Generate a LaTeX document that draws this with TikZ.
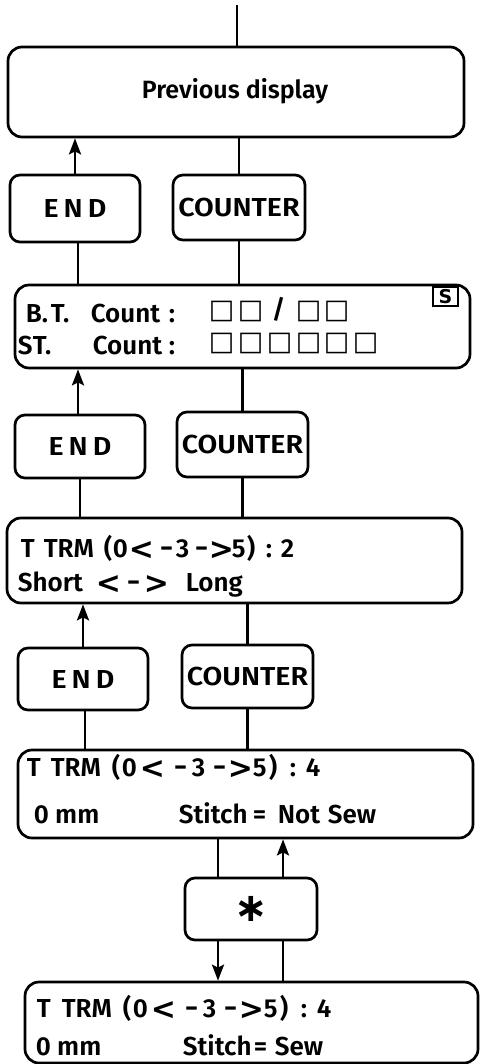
\documentclass[tikz,border=0pt]{standalone}
\usepackage{graphicx}
\usepackage{fontspec}
\setmainfont{Fira Sans}[UprightFont={* SemiBold}]
\newfontfamily\wf{Fira Sans}[UprightFont={* SemiBold},FakeStretch=1.1]
\newfontfamily\dejavu{DejaVu Sans}
\newfontfamily\symf{DejaVu Sans Bold}
\usetikzlibrary{arrows.meta}
\newcommand\sqb{{\dejavu\fontsize{27}{27}\selectfont □}}
\newcommand\pa[2]{\rlap{\hspace*{#1pt}#2}}
\newcommand\lt{\raisebox{-2.5pt}{\symf\fontsize{30}{30}\selectfont <}}
\newcommand\gt{\raisebox{-2.5pt}{\symf\fontsize{30}{30}\selectfont >}}
\newcommand\dd{\scalebox{0.85}[1.1]{–}}
\begin{document}
\begin{tikzpicture}[x=1pt,y=-1pt,
  line width=2.7pt,
  bigbox/.style={draw,rounded corners=14pt,inner sep=0pt},
  keybox/.style={draw,rounded corners=10pt,inner sep=0pt,minimum width=130pt,font=\wf\fontsize{26}{26}\selectfont},
  txt/.style={anchor=base west,inner sep=0pt,font=\fontsize{26}{26}\selectfont},
  arr/.style={-{Stealth[length=16pt,width=12pt,inset=3pt]}}]
\useasboundingbox (0,0) rectangle (480,1064);
% boxes
\node[bigbox,minimum width=456pt,minimum height=90pt] (prev) at (236,92) {};
\node[txt,anchor=base,font=\fontsize{25}{25}\selectfont] (prevt) at (235,99) {Previous display};
\node[keybox,minimum height=67pt] (end1) at (75,208.5) {E\hspace{5pt}N\hspace{5pt}D};
\node[keybox,minimum width=132pt,minimum height=65pt] (cnt1) at (239,207.5) {COUNTER};
\node[bigbox,minimum width=455pt,minimum height=83pt] (bt) at (242.5,326.5) {};
\node[txt] (bt1) at (0,322) {\pa{24}{B.}\pa{49}{T.}\pa{89}{Count}\pa{167}{:}};
\node[txt] (bt1v) at (0,318) {\pa{207}{\sqb}\pa{236}{\sqb}\pa{270}{/}\pa{294}{\sqb}\pa{322}{\sqb}};
\node[txt] (bt2) at (0,354) {\pa{16}{S}\pa{31}{T.}\pa{91}{Count}\pa{167}{:}};
\node[txt] (bt2v) at (0,350) {\pa{207}{\sqb}\pa{236}{\sqb}\pa{265}{\sqb}\pa{294}{\sqb}\pa{322}{\sqb}\pa{351}{\sqb}};
\node[draw,inner sep=0pt,minimum width=25pt,minimum height=19pt,font=\symf\fontsize{19}{19}\selectfont] (sflag) at (445.5,296.5) {S};
\node[keybox,minimum height=63pt] (end2) at (80,446.5) {E\hspace{5pt}N\hspace{5pt}D};
\node[keybox,minimum width=131pt,minimum height=65pt] (cnt2) at (242.5,444.5) {COUNTER};
\node[bigbox,minimum width=455pt,minimum height=85pt] (trm1) at (234.5,560.5) {};
\node[txt] (trm1a) at (0,557) {\pa{19}{T}\pa{42}{TRM}\pa{102}{(}\pa{111}{0}\pa{127}{\lt}\pa{159}{\dd}\pa{174}{3}\pa{194}{\dd}\pa{207}{\gt}\pa{230}{5}\pa{245}{)}\pa{264}{:}\pa{279}{2}};
\node[txt] (trm1b) at (0,591) {\pa{16}{Short}\pa{94}{\lt}\pa{126}{\dd}\pa{142}{\gt}\pa{184}{Long}};
\node[keybox,minimum height=62pt] (end3) at (83,679) {E\hspace{5pt}N\hspace{5pt}D};
\node[keybox,minimum width=131pt,minimum height=63pt] (cnt3) at (247.5,676.5) {COUNTER};
\node[bigbox,minimum width=455pt,minimum height=88pt] (trm2) at (245.5,794) {};
\node[txt] (trm2a) at (0,776) {\pa{25}{T}\pa{49}{TRM}\pa{110}{(}\pa{120}{0}\pa{138}{\lt}\pa{173}{\dd}\pa{190}{3}\pa{212}{\dd}\pa{226}{\gt}\pa{251}{5}\pa{267}{)}\pa{288}{:}\pa{304}{4}};
\node[txt] (trm2b) at (0,823) {\pa{32}{0 mm}\pa{177}{Stitch}\pa{251}{=}\pa{276}{Not}\pa{326}{Sew}};
\node[keybox,minimum width=132pt,minimum height=62pt] (star) at (251,909) {\symf\fontsize{40}{40}\selectfont ∗};
\node[bigbox,minimum width=453pt,minimum height=81pt] (trm3) at (251.5,1022.5) {};
\node[txt] (trm3a) at (0,1017) {\pa{35}{T}\pa{60}{TRM}\pa{121}{(}\pa{131}{0}\pa{149}{\lt}\pa{184}{\dd}\pa{201}{3}\pa{223}{\dd}\pa{237}{\gt}\pa{262}{5}\pa{278}{)}\pa{299}{:}\pa{315}{4}};
\node[txt] (trm3b) at (0,1055) {\pa{34}{0 mm}\pa{181}{Stitch}\pa{252}{=}\pa{273}{Sew}};
% connectors
\coordinate (top) at (237,5);
\draw (top) -- (top |- prev.north);
\draw[arr] (end1.north) -- (end1.north |- prev.south);
\draw (cnt1.north |- prev.south) -- (cnt1.north);
\draw ([xshift=3pt]end1.south) -- ([xshift=3pt]end1.south |- bt.north);
\draw (cnt1.south) -- (cnt1.south |- bt.north);
\draw[arr] ([xshift=-2pt]end2.north) -- ([xshift=-2pt]end2.north |- bt.south);
\draw (cnt2.north |- bt.south) -- (cnt2.north);
\draw (end2.south) -- (end2.south |- trm1.north);
\draw (cnt2.south) -- (cnt2.south |- trm1.north);
\draw[arr] (end3.north) -- (end3.north |- trm1.south);
\draw (cnt3.north |- trm1.south) -- (cnt3.north);
\draw ([xshift=2pt]end3.south) -- ([xshift=2pt]end3.south |- trm2.north);
\draw (cnt3.south) -- (cnt3.south |- trm2.north);
\draw ([xshift=-33pt]star.north |- trm2.south) -- ([xshift=-33pt]star.north);
\draw[arr] ([xshift=32pt]star.north) -- ([xshift=32pt]star.north |- trm2.south);
\draw[arr] ([xshift=-33pt]star.south) -- ([xshift=-33pt]star.south |- trm3.north);
\draw ([xshift=32pt]star.south |- trm3.north) -- ([xshift=32pt]star.south);
\end{tikzpicture}
\end{document}
